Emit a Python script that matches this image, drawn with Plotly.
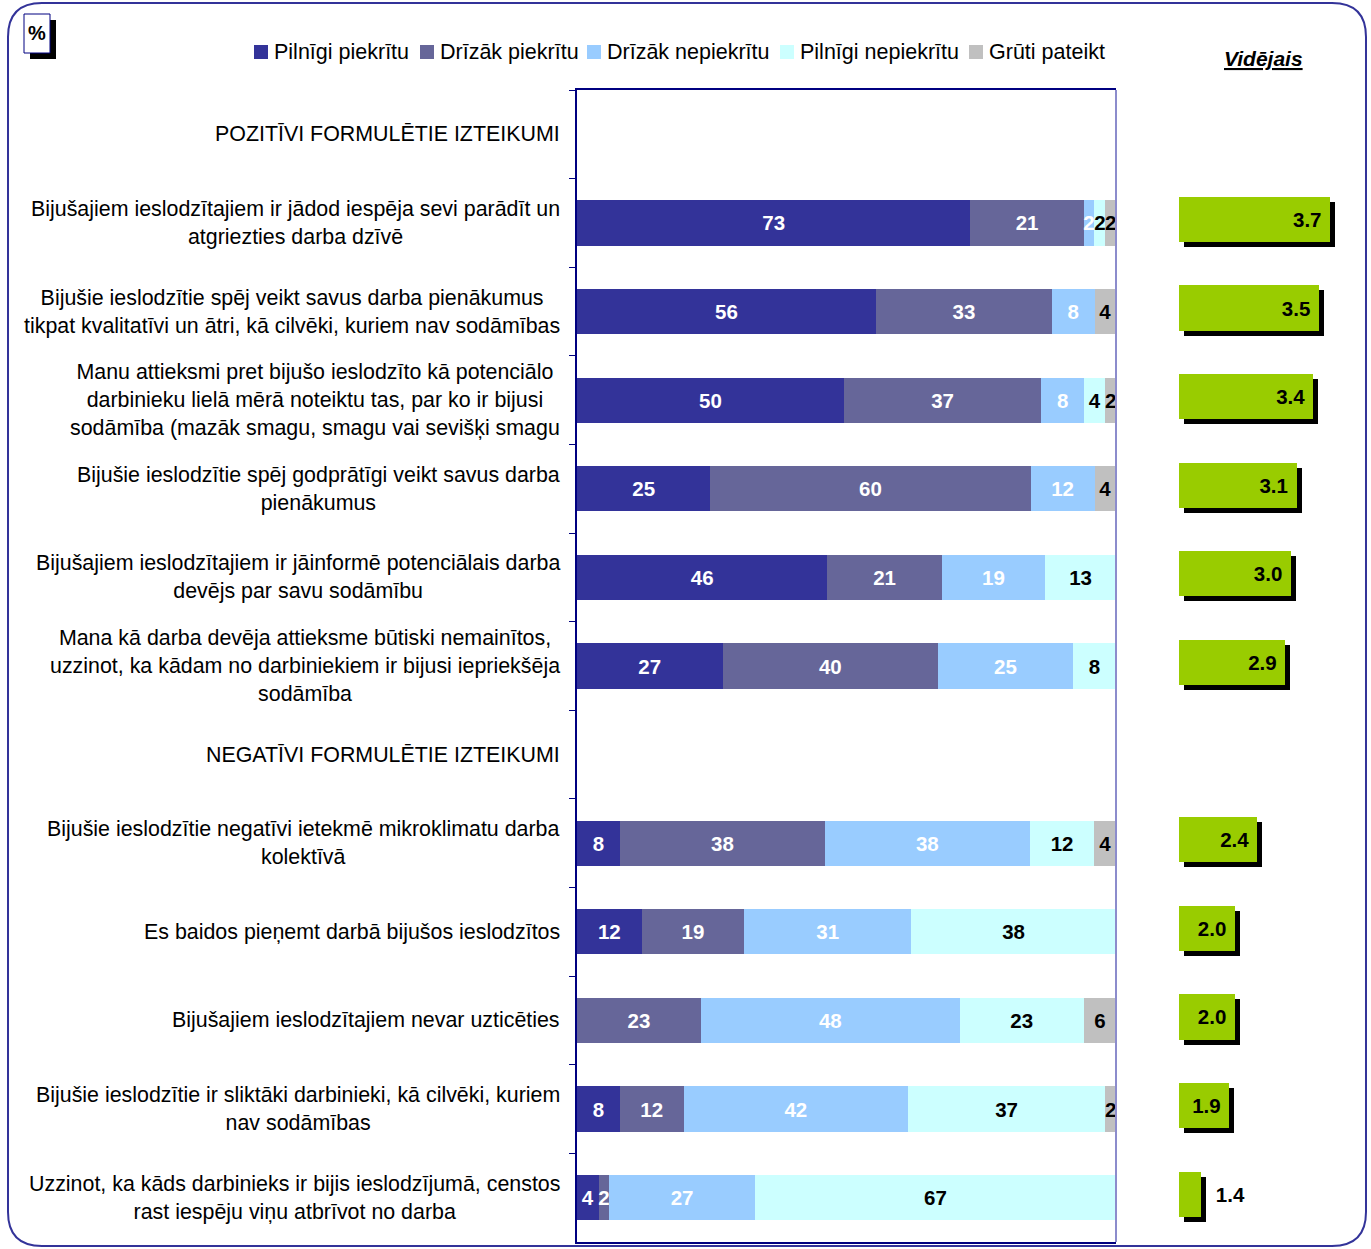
import plotly.graph_objects as go

W, H = 1371, 1249
FONT = "Liberation Sans, Arial, sans-serif"

# Statements (rows, top to bottom); the two section headers have no data
statements = [
    "POZITĪVI FORMULĒTIE IZTEIKUMI",
    "Bijušajiem ieslodzītajiem ir jādod iespēja sevi parādīt un<br>atgriezties darba dzīvē",
    "Bijušie ieslodzītie spēj veikt savus darba pienākumus<br>tikpat kvalitatīvi un ātri, kā cilvēki, kuriem nav sodāmības",
    "Manu attieksmi pret bijušo ieslodzīto kā potenciālo<br>darbinieku lielā mērā noteiktu tas, par ko ir bijusi<br>sodāmība (mazāk smagu, smagu vai sevišķi smagu",
    "Bijušie ieslodzītie spēj godprātīgi veikt savus darba<br>pienākumus",
    "Bijušajiem ieslodzītajiem ir jāinformē potenciālais darba<br>devējs par savu sodāmību",
    "Mana kā darba devēja attieksme būtiski nemainītos,<br>uzzinot, ka kādam no darbiniekiem ir bijusi iepriekšēja<br>sodāmība",
    "NEGATĪVI FORMULĒTIE IZTEIKUMI",
    "Bijušie ieslodzītie negatīvi ietekmē mikroklimatu darba<br>kolektīvā",
    "Es baidos pieņemt darbā bijušos ieslodzītos",
    "Bijušajiem ieslodzītajiem nevar uzticēties",
    "Bijušie ieslodzītie ir sliktāki darbinieki, kā cilvēki, kuriem<br>nav sodāmības",
    "Uzzinot, ka kāds darbinieks ir bijis ieslodzījumā, censtos<br>rast iespēju viņu atbrīvot no darba",
]

# Answer shares, %
pilnigi_piekritu = [None, 73, 56, 50, 25, 46, 27, None, 8, 12, None, 8, 4]
drizak_piekritu = [None, 21, 33, 37, 60, 21, 40, None, 38, 19, 23, 12, 2]
drizak_nepiekritu = [None, 2, 8, 8, 12, 19, 25, None, 38, 31, 48, 42, 27]
pilnigi_nepiekritu = [None, 2, None, 4, None, 13, 8, None, 12, 38, 23, 37, 67]
gruti_pateikt = [None, 2, 4, 2, 4, None, None, None, 4, None, 6, 2, None]

# Mean score on the 1..4 scale
videjais = [None, 3.7, 3.5, 3.4, 3.1, 3.0, 2.9, None, 2.4, 2.0, 2.0, 1.9, 1.4]
SCALE_MIN, SCALE_MAX = 1, 4

series = [
    ("Pilnīgi piekrītu", pilnigi_piekritu, "#333399", "white"),
    ("Drīzāk piekrītu", drizak_piekritu, "#666699", "white"),
    ("Drīzāk nepiekrītu", drizak_nepiekritu, "#99CCFF", "white"),
    ("Pilnīgi nepiekrītu", pilnigi_nepiekritu, "#CCFFFF", "black"),
    ("Grūti pateikt", gruti_pateikt, "#C0C0C0", "black"),
]

# Rounded shares do not always add up to exactly 100: scale each row to 100 %
row_totals = [sum(s[1][i] or 0 for s in series) for i in range(len(statements))]


def px_x(x):
    return x / W


def px_y(y):
    return 1 - y / H


LABEL_SIZE = 20.5
bold_lbl = dict(family=FONT, size=LABEL_SIZE, weight="bold")
NBSP = "\u00a0"

# Pixel layout
PL, PR, PT, PB = 577, 1116, 90, 1242
AV0 = 1179
AV_UNIT = 56
ydom = [px_y(PB), px_y(PT)]
cat_range = [len(statements) - 0.5, -0.5]
green_shift = 3.5
shadow_dx, shadow_dy = 5, 5

fig = go.Figure()

for name, vals, color, tcolor in series:
    shares = [None if v is None else v * 100.0 / row_totals[i] for i, v in enumerate(vals)]
    fig.add_trace(go.Bar(
        name=name, y=statements, x=shares, orientation="h",
        marker=dict(color=color, line=dict(width=0)),
        width=0.51,
        text=["" if v is None else str(v) for v in vals],
        texttemplate="%{text}",
        textposition="inside", insidetextanchor="middle", textangle=0,
        insidetextfont=dict(bold_lbl, color=tcolor),
        showlegend=False, hoverinfo="skip",
        xaxis="x", yaxis="y",
    ))

# Mean-score bars: black drop shadow first, green bar on top
avg_len = [None if v is None else round(v - SCALE_MIN, 2) for v in videjais]
# a value label goes outside when the bar is too short to hold it
avg_pos = ["inside" if (l or 0) * AV_UNIT > 40 else "outside" for l in avg_len]
avg_text = [
    "" if v is None else (f"{v:.1f}{NBSP}" if p == "inside" else f"{NBSP}{NBSP}{v:.1f}")
    for v, p in zip(videjais, avg_pos)
]
fig.add_trace(go.Bar(
    y=statements, x=avg_len, base=SCALE_MIN, orientation="h",
    marker=dict(color="black", line=dict(width=0)), width=0.51,
    showlegend=False, hoverinfo="skip", xaxis="x2", yaxis="y2",
))
fig.add_trace(go.Bar(
    y=statements, x=avg_len, base=SCALE_MIN, orientation="h",
    marker=dict(color="#99CC00", line=dict(width=0)), width=0.51,
    text=avg_text, texttemplate="%{text}",
    textposition=avg_pos, insidetextanchor="end", textangle=0,
    insidetextfont=dict(bold_lbl, color="black"),
    outsidetextfont=dict(bold_lbl, color="black"),
    cliponaxis=False,
    showlegend=False, hoverinfo="skip", xaxis="x3", yaxis="y3",
))

fig.update_layout(
    width=W, height=H,
    margin=dict(l=0, r=0, t=0, b=0, autoexpand=False),
    paper_bgcolor="white", plot_bgcolor="rgba(0,0,0,0)",
    barmode="stack",
    font=dict(family=FONT, size=20, color="black"),
    uniformtext=dict(minsize=LABEL_SIZE, mode="show"),
    showlegend=False,
    xaxis=dict(
        domain=[px_x(PL), px_x(PR)], range=[0, 100], anchor="y",
        showgrid=False, zeroline=False, showticklabels=False, ticks="",
        showline=True, linecolor="#000080", linewidth=1.5, mirror=True,
    ),
    yaxis=dict(
        domain=ydom, type="category", categoryorder="array",
        categoryarray=statements, range=cat_range, anchor="x",
        showgrid=False, zeroline=False, showticklabels=False,
        ticks="outside", tickson="boundaries", ticklen=6,
        tickcolor="#000080", tickwidth=1,
        showline=True, linecolor="#000080", linewidth=1.5,
    ),
    xaxis2=dict(
        domain=[px_x(AV0 + shadow_dx), px_x(AV0 + shadow_dx + (SCALE_MAX - SCALE_MIN) * AV_UNIT)],
        range=[SCALE_MIN, SCALE_MAX], anchor="y2", visible=False,
    ),
    yaxis2=dict(
        domain=[px_y(PB - green_shift + shadow_dy), px_y(PT - green_shift + shadow_dy)],
        type="category", categoryorder="array", categoryarray=statements,
        range=cat_range, anchor="x2", visible=False,
    ),
    xaxis3=dict(
        domain=[px_x(AV0), px_x(AV0 + (SCALE_MAX - SCALE_MIN) * AV_UNIT)],
        range=[SCALE_MIN, SCALE_MAX], anchor="y3", visible=False,
    ),
    yaxis3=dict(
        domain=[px_y(PB - green_shift), px_y(PT - green_shift)],
        type="category", categoryorder="array", categoryarray=statements,
        range=cat_range, anchor="x3", visible=False,
    ),
)

# Legend row: colour swatch + series name
legend_x = [254, 420, 587, 780, 969]
for (name, _, color, _), lx in zip(series, legend_x):
    fig.add_shape(type="rect", xref="paper", yref="paper",
                  x0=px_x(lx), x1=px_x(lx + 14), y0=px_y(59), y1=px_y(45),
                  fillcolor=color, line=dict(width=0), layer="above")
    fig.add_annotation(
        text=name, x=px_x(lx + 18), y=px_y(52), xref="paper", yref="paper",
        xanchor="left", yanchor="middle", showarrow=False,
        font=dict(family=FONT, size=21.5, color="black"),
    )

# Row labels, centred multi-line text right-aligned against the axis
for s in statements:
    fig.add_annotation(
        text=s, x=px_x(562), xref="paper", xanchor="right",
        y=s, yref="y", yanchor="middle", align="center", showarrow=False,
        font=dict(family=FONT, size=21.4, color="black"),
    )

# Header of the mean-score column
fig.add_annotation(
    text="<b><i><u>Vidējais</u></i></b>", x=px_x(1263), y=px_y(58),
    xref="paper", yref="paper", xanchor="center", yanchor="middle",
    showarrow=False, font=dict(family=FONT, size=21, color="black"),
)

# "%" badge with drop shadow
fig.add_shape(type="rect", xref="paper", yref="paper",
              x0=px_x(30), x1=px_x(56), y0=px_y(59), y1=px_y(20),
              fillcolor="black", line=dict(width=0), layer="above")
fig.add_shape(type="rect", xref="paper", yref="paper",
              x0=px_x(24), x1=px_x(50), y0=px_y(53), y1=px_y(14),
              fillcolor="white", line=dict(color="#000080", width=1), layer="above")
fig.add_annotation(
    text="<b>%</b>", x=px_x(37), y=px_y(33), xref="paper", yref="paper",
    xanchor="center", yanchor="middle", showarrow=False,
    font=dict(family=FONT, size=20, color="black"),
)

# Lighter right edge of the plot frame
fig.add_shape(type="line", xref="paper", yref="paper",
              x0=px_x(PR), x1=px_x(PR), y0=ydom[0], y1=ydom[1],
              line=dict(color="#8C8CCC", width=2), layer="above")

# Rounded outer frame
x0, x1, y0, y1, r = 8, 1366, 3, 1246, 34


def P(x, y):
    return f"{px_x(x):.5f},{px_y(y):.5f}"


path = (
    f"M {P(x0 + r, y0)} L {P(x1 - r, y0)} Q {P(x1, y0)} {P(x1, y0 + r)} "
    f"L {P(x1, y1 - r)} Q {P(x1, y1)} {P(x1 - r, y1)} "
    f"L {P(x0 + r, y1)} Q {P(x0, y1)} {P(x0, y1 - r)} "
    f"L {P(x0, y0 + r)} Q {P(x0, y0)} {P(x0 + r, y0)} Z"
)
fig.add_shape(type="path", xref="paper", yref="paper", path=path,
              line=dict(color="#333399", width=2), fillcolor="rgba(0,0,0,0)",
              layer="above")

fig.write_html("out.html")
